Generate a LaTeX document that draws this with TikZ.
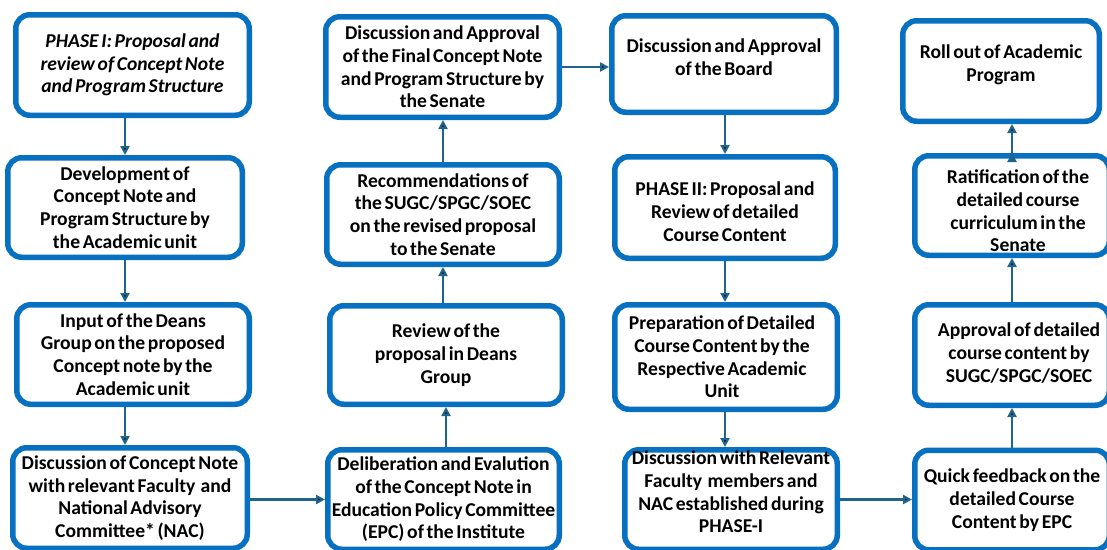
\documentclass[tikz,border=0pt]{standalone}
\usepackage{fontspec}
\setmainfont{Carlito}[WordSpace=0.6]
\usetikzlibrary{positioning,arrows.meta}
\definecolor{boxblue}{RGB}{8,112,192}
\definecolor{arrowblue}{RGB}{30,100,140}
\tikzset{
block/.style={draw=boxblue, line width=5.5pt, rounded corners=14pt, fill=white, inner sep=0pt,
	minimum width=232.5pt, minimum height=99.5pt, align=center,
	font=\fontsize{19.6}{22.7}\selectfont\bfseries},
blocktext/.style={align=center, font=\fontsize{19.6}{22.7}\selectfont\bfseries},
flow/.style={draw=arrowblue, line width=2.2pt, -{Triangle[length=9pt,width=9pt]}}
}

\begin{document}
\begin{tikzpicture}[x=1pt,y=1pt,on grid]
\useasboundingbox (0,0) rectangle (1107,-549);
\clip (0,0) rectangle (1107,-549);
\node[block, minimum width=233.5pt, minimum height=100.5pt]	(a_1)	at (132.5,-65)					{\itshape PHASE I: Proposal and\\\itshape review of Concept Note\\\itshape and Program Structure};
\node[block, minimum width=234.5pt]							(a_2)	[below=142.5pt of a_1, xshift=-7.5pt]	{Development of\\Concept Note and\\Program Structure by\\the Academic unit};
\node[block]												(a_3)	[below=147pt of a_2, xshift=8pt]		{Input of the Deans\\Group on the proposed\\Concept note by the\\Academic unit};
\node[block, minimum width=234.5pt, minimum height=100.5pt]	(a_4)	[below=143.5pt of a_3, xshift=-3pt]		{Discussion of Concept Note\\with relevant Faculty~ and\\National Advisory\\Committee* (NAC)};
\node[block, minimum width=231.5pt]							(b_4)	[right=313.5pt of a_4, yshift=-1.5pt]	{Deliberation and Evalution\\of the Concept Note in\\Education Policy Committee\\(EPC) of the Institute};
\node[block, minimum height=98.5pt]							(b_3)	[above=144.5pt of b_4, xshift=2.5pt]	{Review of the\\proposal in Deans\\Group};
\node[block]												(b_2)	[above=140.5pt of b_3, xshift=-3pt]		{Recommendations of\\the SUGC/SPGC/SOEC\\on the revised proposal\\to the Senate};
\node[block, minimum width=233.5pt, minimum height=100.5pt]	(b_1)	[above=147.5pt of b_2, xshift=-0.5pt]	{Discussion and Approval\\of the Final Concept Note\\and Program Structure by\\the Senate};
\node[block, minimum width=224.5pt, minimum height=96.5pt,
	label={[blocktext, yshift=6.5pt]center:{Discussion and Approval\\of the Board}}]
															(c_1)	[right=281.5pt of b_1, yshift=3pt]		{};
\node[block, minimum width=220.5pt, minimum height=101.5pt,
	label={[blocktext, yshift=-4pt]center:{PHASE II: Proposal and\\Review of detailed\\Course Content}}]
															(c_2)	[below=143.5pt of c_1, xshift=1pt]		{};
\node[block, minimum width=222.5pt, minimum height=104.5pt,
	label={[blocktext, xshift=-4pt]center:{Preparation of Detailed\\Course Content by the\\Respective Academic\\Unit}}]
															(c_3)	[below=149.5pt of c_2, xshift=1pt]		{};
\node[block, minimum width=212.5pt,
	label={[blocktext, yshift=7.5pt]center:{Discussion with Relevant\\Faculty~ members and\\NAC established during\\PHASE-I}}]
															(c_4)	[below=142.5pt of c_3, xshift=5pt]		{};
\node[block, minimum width=194.5pt]							(d_4)	[right=281pt of c_4, yshift=-0.5pt]		{Quick feedback on the\\detailed Course\\Content by EPC};
\node[block, minimum width=194.5pt, minimum height=100.5pt,
	label={[blocktext, xshift=7pt, yshift=2pt]center:{Approval of detailed\\course content by\\SUGC/SPGC/SOEC}}]
															(d_3)	[above=145pt of d_4]					{};
\node[block, minimum width=194.5pt,
	label={[blocktext, xshift=6pt, yshift=-5.5pt]center:{Ratification of the\\detailed course\\curriculum in the\\Senate}}]
															(d_2)	[above=149.5pt of d_3]					{};
\node[block, minimum width=196.5pt, minimum height=100.5pt,
	label={[blocktext, yshift=6.5pt]center:{Roll out of Academic\\Program}}]
															(d_1)	[above=134.5pt of d_2, xshift=-11pt]	{};
\path[flow]
(a_1.south -| a_2)		edge	(a_2.north)
(a_2.south)				edge	(a_2.south |- a_3.north)
(a_3.south -| a_2)		edge	(a_4.north -| a_2)
(a_4.east |- b_4)		edge	(b_4.west)
(b_4.north -| b_3)		edge	(b_3.south)
(b_3.north -| b_2)		edge	(b_2.south)
(b_2.north)				edge	(b_2.north |- b_1.south)
(b_1.east)				edge	(b_1.east -| c_1.west)
(c_1.south -| c_2)		edge	(c_2.north)
(c_2.south)				edge	(c_2.south |- c_3.north)
(c_3.south -| c_2)		edge	(c_4.north -| c_2)
(c_4.east)				edge	(c_4.east -| d_4.west)
(d_4.north)				edge	(d_3.south)
(d_3.north)				edge	(d_2.south)
(d_2.north)				edge	(d_2.north |- d_1.south)
;
\end{tikzpicture}
\end{document}
